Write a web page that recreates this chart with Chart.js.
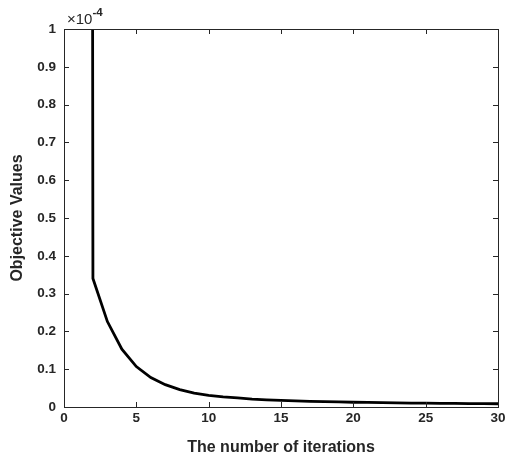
<!DOCTYPE html>
<html>
<head>
<meta charset="utf-8">
<script src="https://cdn.jsdelivr.net/npm/chart.js@4/dist/chart.umd.min.js"></script>
<style>
  html, body { margin: 0; padding: 0; background: #fff; }
  #wrap { width: 505px; height: 459px; }
</style>
</head>
<body>
<div id="wrap"><canvas id="grafico" width="505" height="459"></canvas></div>
<script>
// DADOS
const iteracoes = [1, 2, 3, 4, 5, 6, 7, 8, 9, 10, 11, 12, 13, 14, 15, 16, 17, 18, 19, 20, 21, 22, 23, 24, 25, 26, 27, 28, 29, 30];
const valores = [30, 0.34, 0.226, 0.153, 0.107, 0.078, 0.059, 0.046, 0.037, 0.031, 0.027, 0.024, 0.021, 0.019, 0.0175,
  0.016, 0.015, 0.014, 0.0133, 0.0126, 0.012, 0.0115, 0.011, 0.0105, 0.0101, 0.0097, 0.0094, 0.0091, 0.0088, 0.0086];
const ticksX = [0, 5, 10, 15, 20, 25, 30];
const ticksY = [0, 0.1, 0.2, 0.3, 0.4, 0.5, 0.6, 0.7, 0.8, 0.9, 1];

const FONTE = '"Liberation Sans", Arial, sans-serif';

// caixa estilo MATLAB, com ticks para dentro nos 4 lados
const caixaPlugin = {
  id: 'caixa',
  afterDraw(chart) {
    const { ctx, chartArea: a, scales } = chart;
    const t = 5;
    ctx.save();
    ctx.strokeStyle = '#262626';
    ctx.lineWidth = 1;
    ctx.beginPath();
    ticksX.forEach(v => {
      const x = Math.round(scales.x.getPixelForValue(v)) + 0.5;
      ctx.moveTo(x, a.bottom); ctx.lineTo(x, a.bottom - t);
      ctx.moveTo(x, a.top); ctx.lineTo(x, a.top + t);
    });
    ticksY.forEach(v => {
      const y = Math.round(scales.y.getPixelForValue(v)) + 0.5;
      ctx.moveTo(a.left, y); ctx.lineTo(a.left + t, y);
      ctx.moveTo(a.right, y); ctx.lineTo(a.right - t, y);
    });
    ctx.stroke();
    ctx.strokeRect(Math.round(a.left) + 0.5, Math.round(a.top) + 0.5,
      Math.round(a.right - a.left), Math.round(a.bottom - a.top));

    // expoente
    ctx.fillStyle = '#262626';
    ctx.textBaseline = 'alphabetic';
    ctx.textAlign = 'left';
    ctx.font = '15px ' + FONTE;
    ctx.fillText('\u00d710', a.left + 3, a.top - 5);
    const w = ctx.measureText('\u00d710').width;
    ctx.font = 'bold 11.5px ' + FONTE;
    ctx.fillText('-4', a.left + 3 + w, a.top - 13);
    ctx.restore();
  }
};

new Chart(document.getElementById('grafico').getContext('2d'), {
  type: 'line',
  data: {
    datasets: [{
      data: iteracoes.map((x, i) => ({ x, y: valores[i] })),
      borderColor: '#000',
      borderWidth: 2.8,
      pointRadius: 0,
      tension: 0,
      fill: false
    }]
  },
  options: {
    responsive: false,
    animation: false,
    layout: { padding: { top: 29, right: 0, left: 0, bottom: 0 } },
    plugins: { legend: { display: false }, tooltip: { enabled: false } },
    scales: {
      x: {
        type: 'linear',
        min: 0,
        max: 30,
        afterBuildTicks: s => { s.ticks = ticksX.map(v => ({ value: v })); },
        afterFit: s => { s.height = 52; s.paddingRight = 7; s.paddingLeft = 0; },
        grid: { display: false, drawTicks: false },
        border: { display: false },
        ticks: {
          padding: 3,
          maxRotation: 0,
          color: '#262626',
          font: { family: FONTE, size: 13.5, weight: 'bold' }
        },
        title: {
          display: true,
          text: 'The number of iterations',
          color: '#262626',
          padding: { top: 0, bottom: 1.5 },
          font: { family: FONTE, size: 16, weight: 'bold' }
        }
      },
      y: {
        type: 'linear',
        min: 0,
        max: 1,
        afterBuildTicks: s => { s.ticks = ticksY.map(v => ({ value: v })); },
        afterFit: s => { s.width = 64; },
        grid: { display: false, drawTicks: false },
        border: { display: false },
        ticks: {
          padding: 8,
          color: '#262626',
          font: { family: FONTE, size: 13.5, weight: 'bold' },
          callback: v => String(Math.round(v * 10) / 10)
        },
        title: {
          display: true,
          text: 'Objective Values',
          color: '#262626',
          padding: { top: 7.5, bottom: 0 },
          font: { family: FONTE, size: 16, weight: 'bold' }
        }
      }
    }
  },
  plugins: [caixaPlugin]
});
</script>
</body>
</html>
